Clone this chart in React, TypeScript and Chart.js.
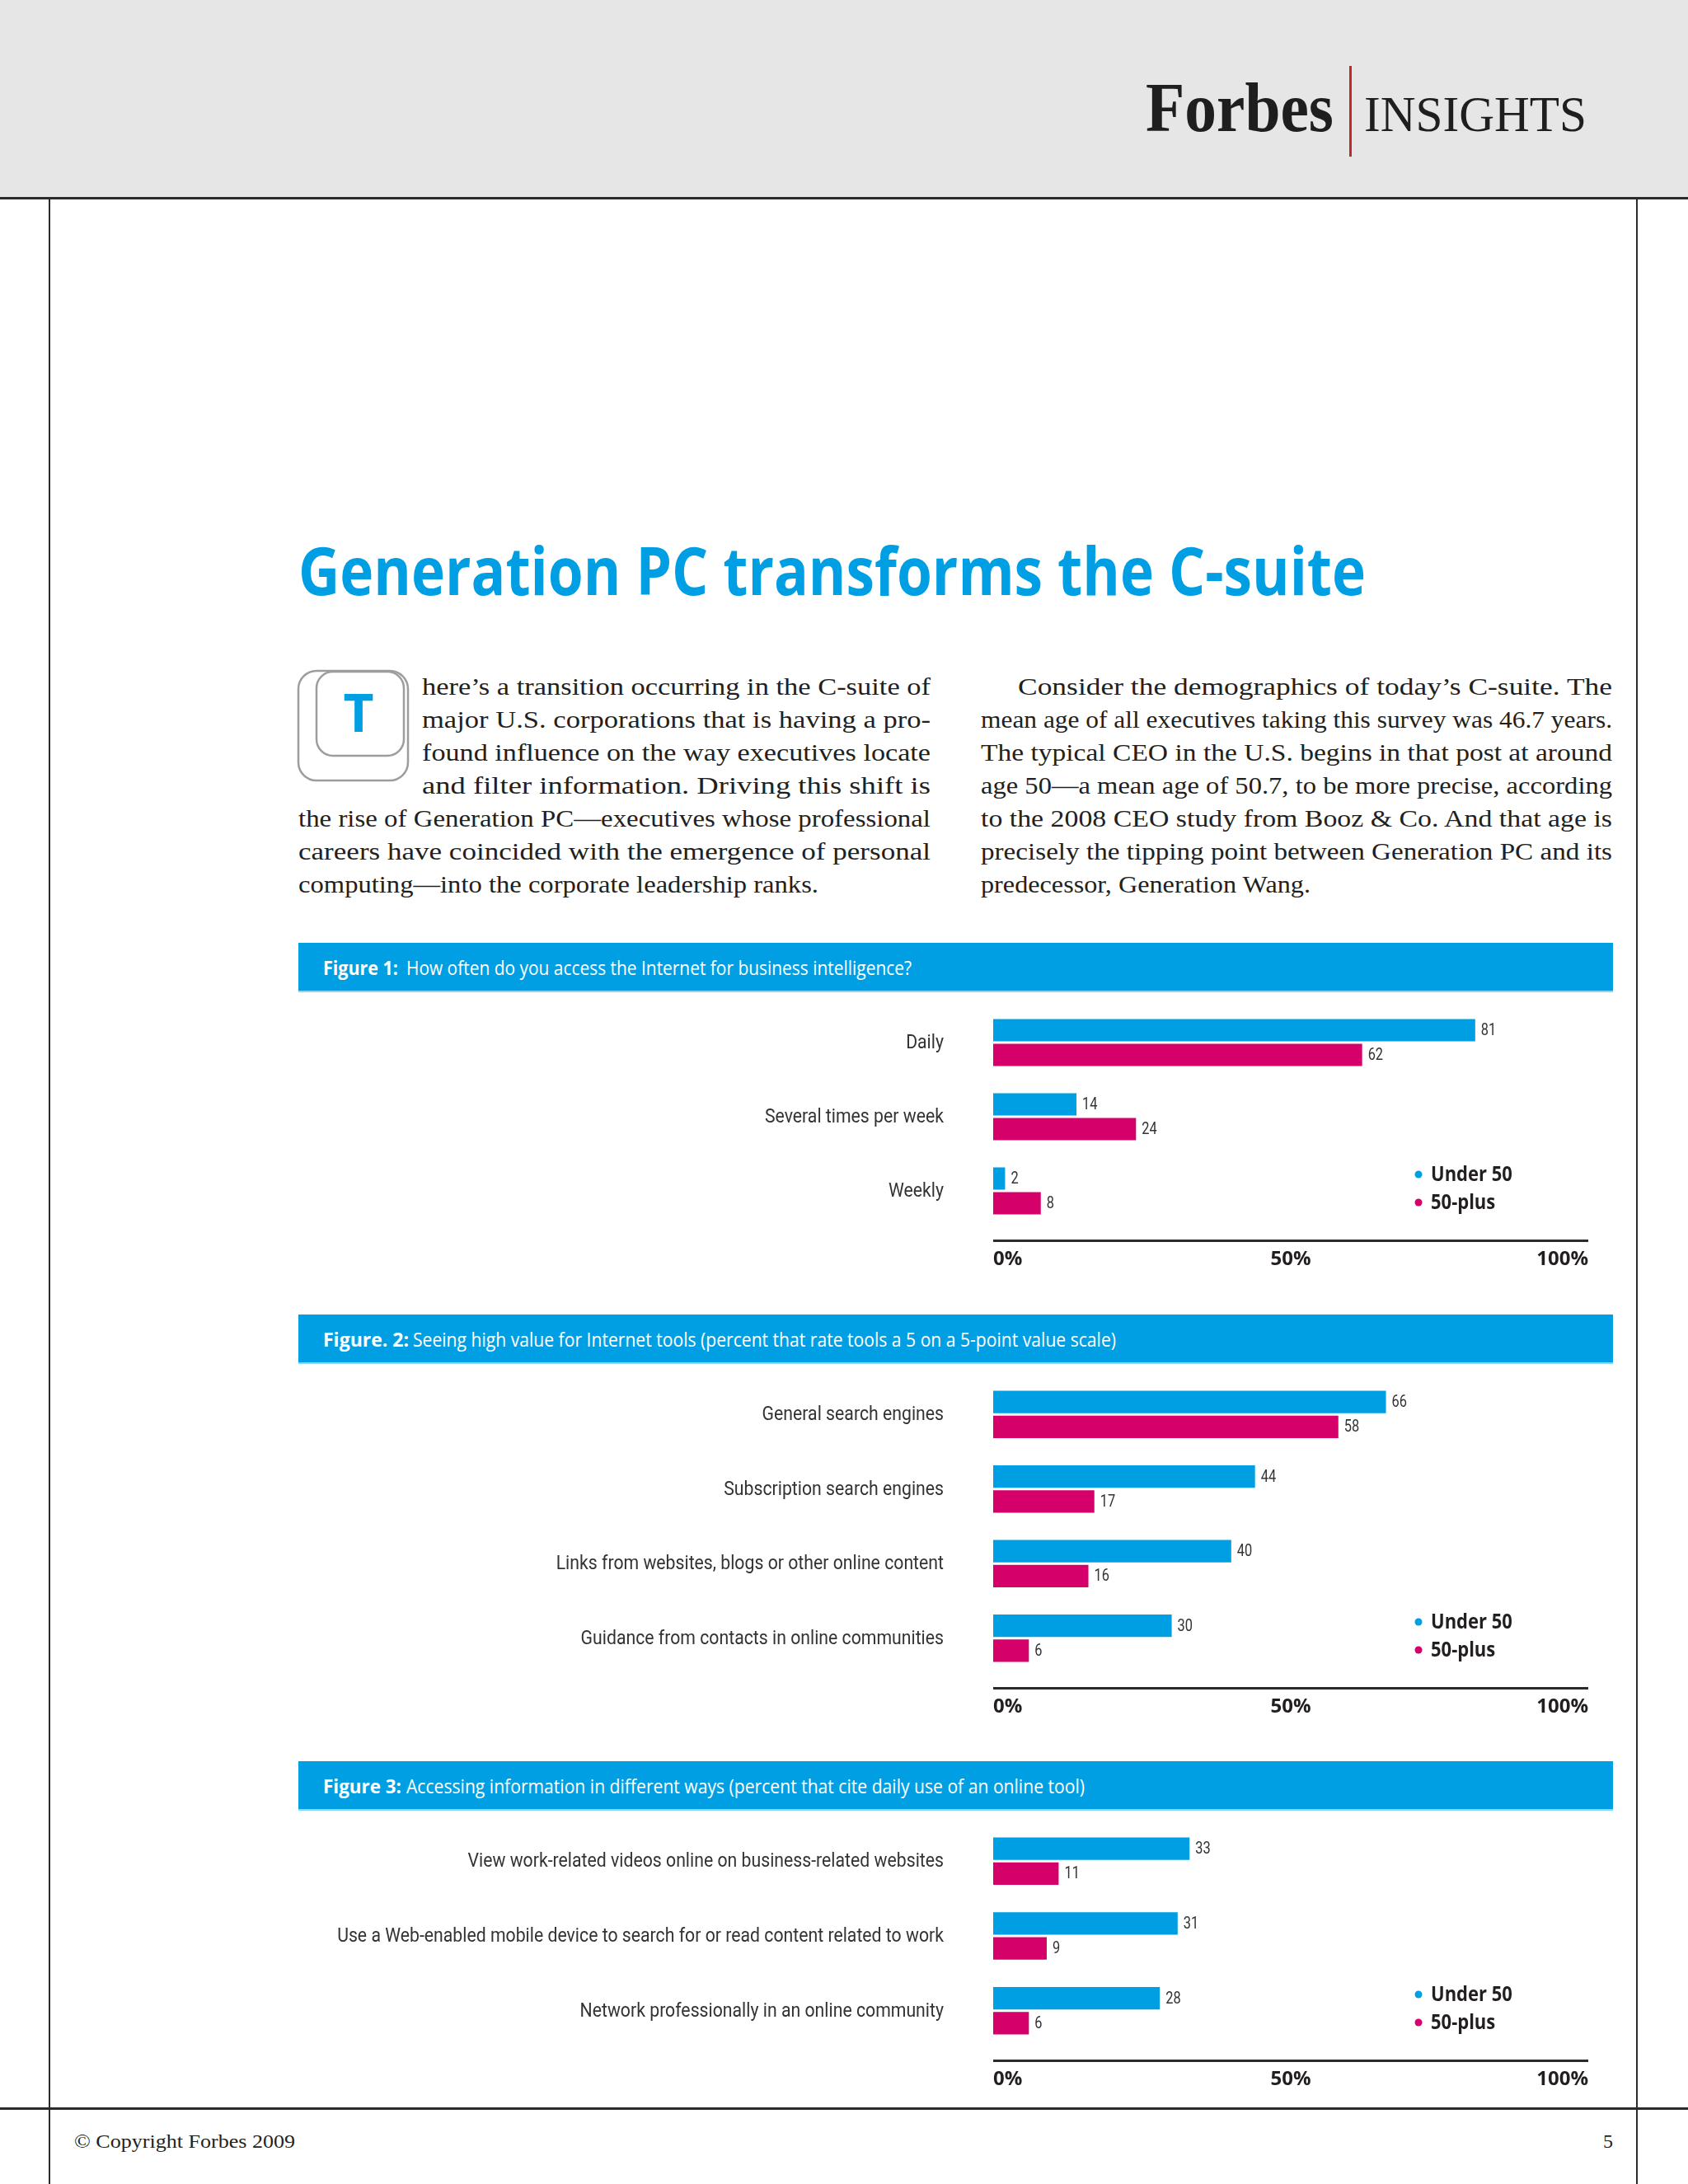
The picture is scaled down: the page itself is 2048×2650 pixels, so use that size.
import React, { useEffect, useRef } from "react";
import { Chart, registerables } from "chart.js";

Chart.register(...registerables);

// ---------- DATA ----------
const seriesLabels = ["Under 50", "50-plus"];
const seriesColors = ["#009fe3", "#d5006a"];

const fig1Categories = ["Daily", "Several times per week", "Weekly"];
const fig1Under50 = [81, 14, 2];
const fig1Plus50 = [62, 24, 8];

const fig2Categories = [
  "General search engines",
  "Subscription search engines",
  "Links from websites, blogs or other online content",
  "Guidance from contacts in online communities",
];
const fig2Under50 = [66, 44, 40, 30];
const fig2Plus50 = [58, 17, 16, 6];

const fig3Categories = [
  "View work-related videos online on business-related websites",
  "Use a Web-enabled mobile device to search for or read content related to work",
  "Network professionally in an online community",
];
const fig3Under50 = [33, 31, 28];
const fig3Plus50 = [11, 9, 6];

const axisTickValues = [0, 50, 100];

// ---------- CHART DECORATION PLUGIN ----------
const decorPlugin = {
  id: "figureDecor",
  afterDatasetsDraw(chart: any) {
    const { ctx, chartArea, scales } = chart;
    const xs = scales.x;
    const ys = scales.y;
    ctx.save();

    // axis line
    ctx.fillStyle = "#2b2b2b";
    ctx.fillRect(xs.left, chartArea.bottom + 14, xs.right - xs.left, 3);

    // category labels (condensed)
    ctx.fillStyle = "#333333";
    ctx.font = "400 24px Roboto";
    ctx.textAlign = "right";
    ctx.textBaseline = "middle";
    (chart.data.labels as string[]).forEach((lab, i) => {
      const y = ys.getPixelForValue(i);
      ctx.save();
      ctx.translate(chartArea.left - 60, y + 1);
      ctx.scale(0.885, 1);
      ctx.fillText(lab, 0, 0);
      ctx.restore();
    });

    // value labels
    ctx.font = "400 20px Roboto";
    ctx.textAlign = "left";
    ctx.fillStyle = "#333333";
    chart.data.datasets.forEach((ds: any, di: number) => {
      const meta = chart.getDatasetMeta(di);
      meta.data.forEach((bar: any, i: number) => {
        ctx.save();
        ctx.translate(bar.x + 7, bar.y + 1);
        ctx.scale(0.82, 1);
        ctx.fillText(String(ds.data[i]), 0, 0);
        ctx.restore();
      });
    });

    // legend
    const lx = chartArea.left + 516;
    const lys = [chartArea.bottom - 65, chartArea.bottom - 31];
    chart.data.datasets.forEach((ds: any, di: number) => {
      const y = lys[di];
      ctx.fillStyle = ds.backgroundColor;
      ctx.beginPath();
      ctx.arc(lx, y, 4.5, 0, Math.PI * 2);
      ctx.fill();
      ctx.fillStyle = "#231f20";
      ctx.font = "bold 25px 'Open Sans'";
      ctx.textAlign = "left";
      ctx.textBaseline = "middle";
      ctx.save();
      ctx.translate(lx + 15, y + 1);
      ctx.scale(0.88, 1);
      ctx.fillText(ds.label, 0, 0);
      ctx.restore();
    });

    ctx.restore();
  },
};

type FigProps = {
  top: number;
  areaHeight: number;
  categories: string[];
  under: number[];
  plus: number[];
};

function BarFigure({ top, areaHeight, categories, under, plus }: FigProps) {
  const ref = useRef<HTMLCanvasElement>(null);
  const width = 1595;
  const height = 10 + areaHeight + 55;
  useEffect(() => {
    if (!ref.current) return;
    const chart = new Chart(ref.current, {
      type: "bar",
      data: {
        labels: categories,
        datasets: [
          {
            label: seriesLabels[0],
            data: under,
            backgroundColor: seriesColors[0],
            categoryPercentage: 0.667,
            barPercentage: 0.9,
          },
          {
            label: seriesLabels[1],
            data: plus,
            backgroundColor: seriesColors[1],
            categoryPercentage: 0.667,
            barPercentage: 0.9,
          },
        ],
      },
      options: {
        indexAxis: "y",
        responsive: false,
        maintainAspectRatio: false,
        animation: false,
        devicePixelRatio: 1,
        layout: { padding: { top: 10, right: 30, left: 0, bottom: 0 } },
        plugins: {
          legend: { display: false },
          tooltip: { enabled: false },
        },
        scales: {
          x: {
            min: 0,
            max: 100,
            afterBuildTicks: (s: any) => {
              s.ticks = axisTickValues.map((v) => ({ value: v }));
            },
            afterFit: (s: any) => {
              s.height = 55;
            },
            grid: { display: false, drawTicks: false },
            border: { display: false },
            ticks: {
              callback: (v: any) => v + "%",
              align: "inner",
              padding: 24,
              maxRotation: 0,
              autoSkip: false,
              color: "#231f20",
              font: { family: "'Open Sans'", weight: "bold", size: 24 },
            },
          },
          y: {
            afterFit: (s: any) => {
              s.width = 843;
            },
            grid: { display: false, drawTicks: false },
            border: { display: false },
            ticks: { display: false },
          },
        },
      } as any,
      plugins: [decorPlugin],
    });
    return () => chart.destroy();
  }, []);
  return (
    <canvas
      ref={ref}
      width={width}
      height={height}
      style={{ position: "absolute", left: 362, top, width, height }}
    />
  );
}

// ---------- STATIC TEXT HELPERS ----------
const serif = "'Liberation Serif', serif";
const sans = "'Open Sans', sans-serif";
const ink = "#231f20";
const blue = "#009fe3";

function FitText(props: {
  x: number;
  y: number;
  w?: number;
  size: number;
  family: string;
  weight?: string | number;
  fill?: string;
  anchor?: string;
  children: string;
}) {
  const { x, y, w, size, family, weight, fill, anchor, children } = props;
  const extra: any = {};
  if (w) {
    extra.textLength = w;
    extra.lengthAdjust = "spacingAndGlyphs";
  }
  return (
    <text
      x={x}
      y={y}
      fontSize={size}
      fontFamily={family}
      fontWeight={weight || "normal"}
      fill={fill || ink}
      textAnchor={anchor || "start"}
      {...extra}
    >
      {children}
    </text>
  );
}

const leftLines: [string, number, number][] = [
  ["here\u2019s a transition occurring in the C-suite of", 512, 617],
  ["major U.S. corporations that is having a pro-", 512, 617],
  ["found influence on the way executives locate", 512, 617],
  ["and filter information. Driving this shift is", 512, 617],
  ["the rise of Generation PC\u2014executives whose professional", 362, 767],
  ["careers have coincided with the emergence of personal", 362, 767],
  ["computing\u2014into the corporate leadership ranks.", 362, 631],
];
const rightLines: [string, number, number][] = [
  ["Consider the demographics of today\u2019s C-suite. The", 1235, 721],
  ["mean age of all executives taking this survey was 46.7 years.", 1190, 766],
  ["The typical CEO in the U.S. begins in that post at around", 1190, 766],
  ["age 50\u2014a mean age of 50.7, to be more precise, according", 1190, 766],
  ["to the 2008 CEO study from Booz & Co. And that age is", 1190, 766],
  ["precisely the tipping point between Generation PC and its", 1190, 766],
  ["predecessor, Generation Wang.", 1190, 400],
];

function FigureHeader(props: {
  top: number;
  bold: string;
  boldW: number;
  rest: string;
  restX: number;
  restW: number;
}) {
  const { top, bold, boldW, rest, restX, restW } = props;
  return (
    <g>
      <rect x={362} y={top} width={1595} height={60} fill={blue} />
      <rect x={362} y={top + 58} width={1595} height={2} fill="#8dd3f3" />
      <FitText x={392} y={top + 39} w={boldW} size={23} family={sans} weight="bold" fill="#ffffff">
        {bold}
      </FitText>
      <FitText x={restX} y={top + 39} w={restW} size={23} family={sans} fill="#ffffff">
        {rest}
      </FitText>
    </g>
  );
}

export default function App() {
  useEffect(() => {
    document.body.style.margin = "0";
    document.body.style.background = "#ffffff";
  }, []);
  return (
    <div
      style={{
        position: "absolute",
        left: 0,
        top: 0,
        width: 2048,
        height: 2650,
        overflow: "hidden",
        background: "#ffffff",
      }}
    >
      <svg
        width={2048}
        height={2650}
        style={{ position: "absolute", left: 0, top: 0 }}
        xmlns="http://www.w3.org/2000/svg"
      >
        {/* header band */}
        <rect x={0} y={0} width={2048} height={240} fill="#e6e6e6" />
        <rect x={0} y={239} width={2048} height={3} fill="#2b2b2b" />
        {/* page frame */}
        <rect x={59} y={240} width={2} height={2410} fill="#2b2b2b" />
        <rect x={1985} y={240} width={2} height={2410} fill="#2b2b2b" />
        <rect x={0} y={2557} width={2048} height={3} fill="#2b2b2b" />

        {/* logo */}
        <FitText x={1390} y={159} w={228} size={84} family={serif} weight="bold" fill="#1e1e1e">
          Forbes
        </FitText>
        <rect x={1637} y={80} width={3} height={110} fill="#c1272d" />
        <FitText x={1655} y={159} w={270} size={62} family={serif} fill="#1e1e1e">
          INSIGHTS
        </FitText>

        {/* title */}
        <FitText x={362} y={722} w={1295} size={80} family={sans} weight="bold" fill={blue}>
          Generation PC transforms the C-suite
        </FitText>

        {/* drop cap */}
        <rect x={362} y={814} width={133} height={133} rx={22} ry={22} fill="#ffffff" stroke="#9d9d9c" strokeWidth={2.5} />
        <rect x={384} y={815} width={106} height={102} rx={20} ry={20} fill="#ffffff" stroke="#9d9d9c" strokeWidth={2.5} />
        <FitText x={435} y={888} size={64} family={sans} weight="bold" fill={blue} anchor="middle">
          T
        </FitText>

        {/* body text */}
        {leftLines.map(([t, x, w], i) => (
          <FitText key={"l" + i} x={x} y={843 + i * 40} w={w} size={30} family={serif}>
            {t}
          </FitText>
        ))}
        {rightLines.map(([t, x, w], i) => (
          <FitText key={"r" + i} x={x} y={843 + i * 40} w={w} size={30} family={serif}>
            {t}
          </FitText>
        ))}

        {/* figure headers */}
        <FigureHeader
          top={1144}
          bold="Figure 1:"
          boldW={91}
          rest="How often do you access the Internet for business intelligence?"
          restX={493}
          restW={613}
        />
        <FigureHeader
          top={1595}
          bold="Figure. 2:"
          boldW={104}
          rest="Seeing high value for Internet tools (percent that rate tools a 5 on a 5-point value scale)"
          restX={501}
          restW={853}
        />
        <FigureHeader
          top={2137}
          bold="Figure 3:"
          boldW={95}
          rest="Accessing information in different ways (percent that cite daily use of an online tool)"
          restX={493}
          restW={823}
        />

        {/* footer */}
        <FitText x={90} y={2606} w={268} size={24} family={serif}>
          {"\u00a9 Copyright Forbes 2009"}
        </FitText>
        <FitText x={1945} y={2606} size={24} family={serif}>
          5
        </FitText>
      </svg>

      <BarFigure top={1210} areaHeight={270} categories={fig1Categories} under={fig1Under50} plus={fig1Plus50} />
      <BarFigure top={1661} areaHeight={362} categories={fig2Categories} under={fig2Under50} plus={fig2Plus50} />
      <BarFigure top={2203} areaHeight={272} categories={fig3Categories} under={fig3Under50} plus={fig3Plus50} />
    </div>
  );
}
